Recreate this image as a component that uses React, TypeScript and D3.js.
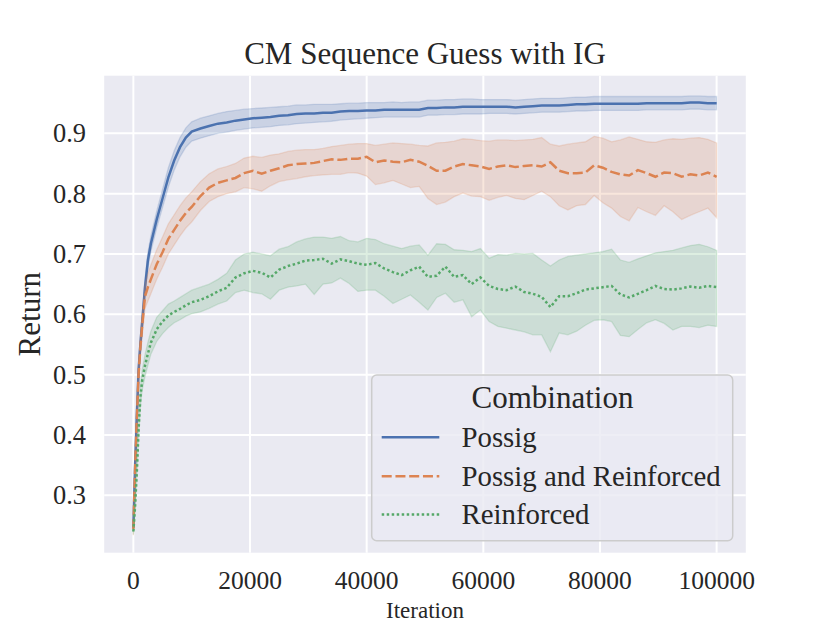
import React from "react";
import * as d3 from "d3";

// iterations shared by all three runs
const iterations = [
  0, 300, 600, 900, 1200, 1500, 2000, 2500, 3000, 4000, 5000, 6000, 7000, 8000, 9000, 10000,
  11500, 13000, 14500, 16000, 17500, 19000, 20500, 22000, 23500, 25000, 26500, 28000, 29500,
  31000, 32500, 34000, 35500, 37000, 38500, 40000, 41500, 43000, 44500, 46000, 47500, 49000,
  50500, 52000, 53500, 55000, 56500, 58000, 59500, 61000, 62500, 64000, 65500, 67000, 68500,
  70000, 71500, 73000, 74500, 76000, 77500, 79000, 80500, 82000, 83500, 85000, 86500, 88000,
  89500, 91000, 92500, 94000, 95500, 97000, 98500, 100000,
];

const possigMean = [
  0.246, 0.35, 0.433, 0.508, 0.55, 0.585, 0.645, 0.69, 0.717, 0.757, 0.792, 0.827, 0.855, 0.877, 0.893, 0.903,
  0.908, 0.912, 0.916, 0.918, 0.921, 0.923, 0.925, 0.926, 0.927, 0.929, 0.93, 0.932, 0.933,
  0.933, 0.934, 0.934, 0.936, 0.937, 0.937, 0.938, 0.938, 0.939, 0.939, 0.939, 0.939, 0.939,
  0.942, 0.942, 0.943, 0.943, 0.944, 0.944, 0.944, 0.944, 0.944, 0.944, 0.943, 0.944, 0.945,
  0.946, 0.946, 0.946, 0.947, 0.948, 0.948, 0.949, 0.949, 0.949, 0.949, 0.949, 0.949, 0.95,
  0.95, 0.95, 0.95, 0.95, 0.951, 0.951, 0.95, 0.95,
];
const possigHi = [
  0.256, 0.362, 0.446, 0.52, 0.563, 0.598, 0.658, 0.703, 0.73, 0.771, 0.807, 0.843, 0.871, 0.893, 0.909, 0.919,
  0.925, 0.929, 0.933, 0.936, 0.938, 0.94, 0.941, 0.942, 0.943, 0.944, 0.945, 0.947, 0.947,
  0.948, 0.948, 0.948, 0.949, 0.95, 0.95, 0.951, 0.951, 0.951, 0.952, 0.951, 0.952, 0.952,
  0.955, 0.955, 0.956, 0.956, 0.957, 0.957, 0.956, 0.956, 0.956, 0.956, 0.955, 0.956, 0.957,
  0.958, 0.958, 0.958, 0.959, 0.96, 0.96, 0.961, 0.961, 0.961, 0.961, 0.961, 0.961, 0.961,
  0.961, 0.961, 0.961, 0.961, 0.962, 0.962, 0.961, 0.961,
];
const possigLo = [
  0.24, 0.338, 0.42, 0.495, 0.537, 0.572, 0.632, 0.677, 0.704, 0.743, 0.777, 0.811, 0.839, 0.861, 0.877, 0.887,
  0.892, 0.896, 0.9, 0.902, 0.905, 0.907, 0.909, 0.91, 0.911, 0.913, 0.914, 0.916, 0.917,
  0.918, 0.919, 0.92, 0.922, 0.923, 0.924, 0.925, 0.926, 0.927, 0.927, 0.927, 0.927, 0.927,
  0.93, 0.93, 0.931, 0.931, 0.932, 0.932, 0.932, 0.933, 0.933, 0.933, 0.932, 0.933, 0.934,
  0.935, 0.935, 0.935, 0.936, 0.937, 0.937, 0.938, 0.938, 0.938, 0.938, 0.938, 0.938, 0.939,
  0.939, 0.939, 0.939, 0.939, 0.94, 0.94, 0.939, 0.939,
];

const bothMean = [
  0.244, 0.345, 0.428, 0.502, 0.545, 0.58, 0.63, 0.645, 0.658, 0.683, 0.703, 0.725, 0.74, 0.755, 0.768, 0.778,
  0.796, 0.81, 0.818, 0.822, 0.826, 0.834, 0.838, 0.833, 0.838, 0.842, 0.847, 0.849, 0.85,
  0.851, 0.854, 0.857, 0.856, 0.858, 0.858, 0.861, 0.852, 0.855, 0.853, 0.852, 0.856, 0.853,
  0.846, 0.838, 0.838, 0.845, 0.849, 0.847, 0.845, 0.841, 0.845, 0.847, 0.844, 0.846, 0.847,
  0.845, 0.852, 0.838, 0.834, 0.834, 0.835, 0.847, 0.843, 0.836, 0.832, 0.83, 0.839, 0.834,
  0.828, 0.835, 0.834, 0.828, 0.832, 0.83, 0.835, 0.828,
];
const bothHi = [
  0.256, 0.36, 0.443, 0.518, 0.563, 0.598, 0.65, 0.668, 0.682, 0.707, 0.728, 0.75, 0.765, 0.78, 0.793, 0.803,
  0.82, 0.833, 0.841, 0.845, 0.85, 0.859, 0.862, 0.86, 0.864, 0.866, 0.87, 0.872, 0.873,
  0.873, 0.875, 0.878, 0.88, 0.882, 0.883, 0.883, 0.88, 0.882, 0.884, 0.883, 0.882, 0.88,
  0.879, 0.884, 0.885, 0.887, 0.891, 0.89, 0.888, 0.887, 0.889, 0.889, 0.888, 0.889, 0.89,
  0.893, 0.882, 0.879, 0.882, 0.884, 0.886, 0.895, 0.892, 0.886, 0.889, 0.894, 0.89, 0.886,
  0.885, 0.889, 0.891, 0.89, 0.892, 0.893, 0.89, 0.884,
];
const bothLo = [
  0.234, 0.33, 0.413, 0.487, 0.528, 0.562, 0.61, 0.622, 0.634, 0.658, 0.678, 0.7, 0.715, 0.73, 0.743, 0.753,
  0.772, 0.787, 0.795, 0.8, 0.803, 0.81, 0.808, 0.804, 0.813, 0.82, 0.823, 0.825, 0.828,
  0.83, 0.831, 0.832, 0.832, 0.835, 0.834, 0.829, 0.815, 0.818, 0.822, 0.816, 0.81, 0.812,
  0.792, 0.782, 0.786, 0.795, 0.801, 0.796, 0.795, 0.789, 0.794, 0.797, 0.792, 0.79, 0.797,
  0.804, 0.795, 0.78, 0.773, 0.78, 0.782, 0.797, 0.785, 0.776, 0.762, 0.755, 0.777, 0.77,
  0.764, 0.78, 0.77, 0.757, 0.764, 0.77, 0.776, 0.76,
];

const reinfMean = [
  0.24, 0.283, 0.34, 0.41, 0.462, 0.49, 0.515, 0.535, 0.553, 0.575, 0.588, 0.598, 0.604, 0.609, 0.615, 0.62,
  0.624, 0.63, 0.638, 0.644, 0.661, 0.668, 0.672, 0.669, 0.661, 0.674, 0.68, 0.684, 0.689,
  0.69, 0.692, 0.684, 0.691, 0.688, 0.684, 0.682, 0.685, 0.676, 0.67, 0.665, 0.673, 0.679,
  0.662, 0.664, 0.679, 0.662, 0.665, 0.65, 0.661, 0.647, 0.642, 0.64, 0.646, 0.637, 0.634,
  0.629, 0.612, 0.63, 0.63, 0.635, 0.641, 0.643, 0.645, 0.647, 0.633, 0.628, 0.634, 0.64,
  0.647, 0.642, 0.641, 0.643, 0.646, 0.644, 0.647, 0.645,
];
const reinfHi = [
  0.245, 0.292, 0.352, 0.424, 0.478, 0.507, 0.533, 0.554, 0.572, 0.595, 0.606, 0.617, 0.622, 0.628, 0.634, 0.64,
  0.645, 0.65, 0.658, 0.668, 0.69, 0.7, 0.703, 0.7, 0.697, 0.708, 0.712, 0.72, 0.725,
  0.728, 0.728, 0.726, 0.729, 0.722, 0.72, 0.726, 0.724, 0.717, 0.713, 0.709, 0.713, 0.715,
  0.698, 0.717, 0.716, 0.707, 0.706, 0.704, 0.709, 0.693, 0.699, 0.698, 0.701, 0.7, 0.701,
  0.69, 0.68, 0.69, 0.696, 0.698, 0.7, 0.702, 0.704, 0.708, 0.69, 0.686, 0.692, 0.697,
  0.702, 0.704, 0.706, 0.71, 0.714, 0.716, 0.712, 0.706,
];
const reinfLo = [
  0.235, 0.274, 0.328, 0.396, 0.446, 0.474, 0.497, 0.516, 0.534, 0.555, 0.568, 0.578, 0.586, 0.591, 0.597, 0.601,
  0.604, 0.61, 0.617, 0.622, 0.636, 0.64, 0.636, 0.634, 0.625, 0.64, 0.645, 0.647, 0.65,
  0.633, 0.65, 0.652, 0.66, 0.651, 0.638, 0.64, 0.64, 0.63, 0.618, 0.625, 0.632, 0.62,
  0.607, 0.628, 0.635, 0.62, 0.624, 0.596, 0.607, 0.588, 0.58, 0.577, 0.574, 0.571, 0.566,
  0.566, 0.538, 0.569, 0.566, 0.572, 0.582, 0.59, 0.591, 0.588, 0.565, 0.563, 0.575, 0.586,
  0.591, 0.585, 0.574, 0.58, 0.58, 0.578, 0.582, 0.58,
];

const xTicks = [0, 20000, 40000, 60000, 80000, 100000];
const yTicks = [0.3, 0.4, 0.5, 0.6, 0.7, 0.8, 0.9];

const series = [
  { name: "Possig", color: "#4c72b0", dash: "none", mean: possigMean, lo: possigLo, hi: possigHi },
  { name: "Possig and Reinforced", color: "#dd8452", dash: "10,3.75", mean: bothMean, lo: bothLo, hi: bothHi },
  { name: "Reinforced", color: "#55a868", dash: "2.5,2.5", mean: reinfMean, lo: reinfLo, hi: reinfHi },
];

const W = 830;
const H = 623;
const plot = { left: 104.2, right: 745.8, top: 75.7, bottom: 552.7 };
const font = "'Liberation Serif', 'DejaVu Serif', serif";
const ink = "#262626";

export default function App() {
  const x = d3.scaleLinear().domain([-5000, 105000]).range([plot.left, plot.right]);
  const y = d3.scaleLinear().domain([0.2049, 0.9955]).range([plot.bottom, plot.top]);

  const idx = iterations.map((_, i) => i);

  const legend = { x: 371.7, y: 375, w: 361, h: 165.7 };
  const rowY = [437.3, 476.3, 514.5];

  return (
    <svg
      width={W}
      height={H}
      style={{ position: "absolute", left: 0, top: 0, background: "#fff" }}
      fontFamily={font}
    >
      <rect
        x={plot.left}
        y={plot.top}
        width={plot.right - plot.left}
        height={plot.bottom - plot.top}
        fill="#eaeaf2"
      />
      {/* grid */}
      {xTicks.map((t) => (
        <line key={"gx" + t} x1={x(t)} x2={x(t)} y1={plot.top} y2={plot.bottom} stroke="#fff" strokeWidth={2} />
      ))}
      {yTicks.map((t) => (
        <line key={"gy" + t} x1={plot.left} x2={plot.right} y1={y(t)} y2={y(t)} stroke="#fff" strokeWidth={2} />
      ))}

      {series.map((s) => {
        const line = d3
          .line<number>()
          .x((i) => x(iterations[i]))
          .y((i) => y(s.mean[i]));
        const area = d3
          .area<number>()
          .x((i) => x(iterations[i]))
          .y0((i) => y(s.lo[i]))
          .y1((i) => y(s.hi[i]));
        return (
          <g key={s.name}>
            <path
              d={line(idx) || ""}
              fill="none"
              stroke={s.color}
              strokeWidth={2.5}
              strokeDasharray={s.dash}
            />
            <path
              d={area(idx) || ""}
              fill={s.color}
              fillOpacity={0.2}
              stroke={s.color}
              strokeOpacity={0.2}
              strokeWidth={1.3}
            />
          </g>
        );
      })}

      {/* tick labels */}
      {xTicks.map((t) => (
        <text key={"tx" + t} x={x(t)} y={589} textAnchor="middle" fontSize={25.5} fill={ink}>
          {t}
        </text>
      ))}
      {yTicks.map((t) => (
        <text key={"ty" + t} x={86} y={y(t) + 9} textAnchor="end" fontSize={26.4} fill={ink}>
          {t.toFixed(1)}
        </text>
      ))}

      <text x={(plot.left + plot.right) / 2} y={64} textAnchor="middle" fontSize={31} fill={ink}>
        CM Sequence Guess with IG
      </text>
      <text x={(plot.left + plot.right) / 2} y={617.5} textAnchor="middle" fontSize={23} fill={ink}>
        Iteration
      </text>
      <text
        transform={`translate(40,${(plot.top + plot.bottom) / 2}) rotate(-90)`}
        textAnchor="middle"
        fontSize={31}
        fill={ink}
      >
        Return
      </text>

      {/* legend */}
      <rect
        x={legend.x}
        y={legend.y}
        width={legend.w}
        height={legend.h}
        rx={5}
        fill="#eaeaf2"
        fillOpacity={0.8}
        stroke="#cccccc"
        strokeWidth={1.5}
      />
      <text x={552.5} y={408} textAnchor="middle" fontSize={31} fill={ink}>
        Combination
      </text>
      {series.map((s, i) => (
        <g key={"lg" + s.name}>
          <line
            x1={381.7}
            x2={439.3}
            y1={rowY[i]}
            y2={rowY[i]}
            stroke={s.color}
            strokeWidth={2.5}
            strokeDasharray={s.dash}
          />
          <text x={461.5} y={rowY[i] + 9.5} fontSize={28.8} fill={ink}>
            {s.name}
          </text>
        </g>
      ))}
    </svg>
  );
}
